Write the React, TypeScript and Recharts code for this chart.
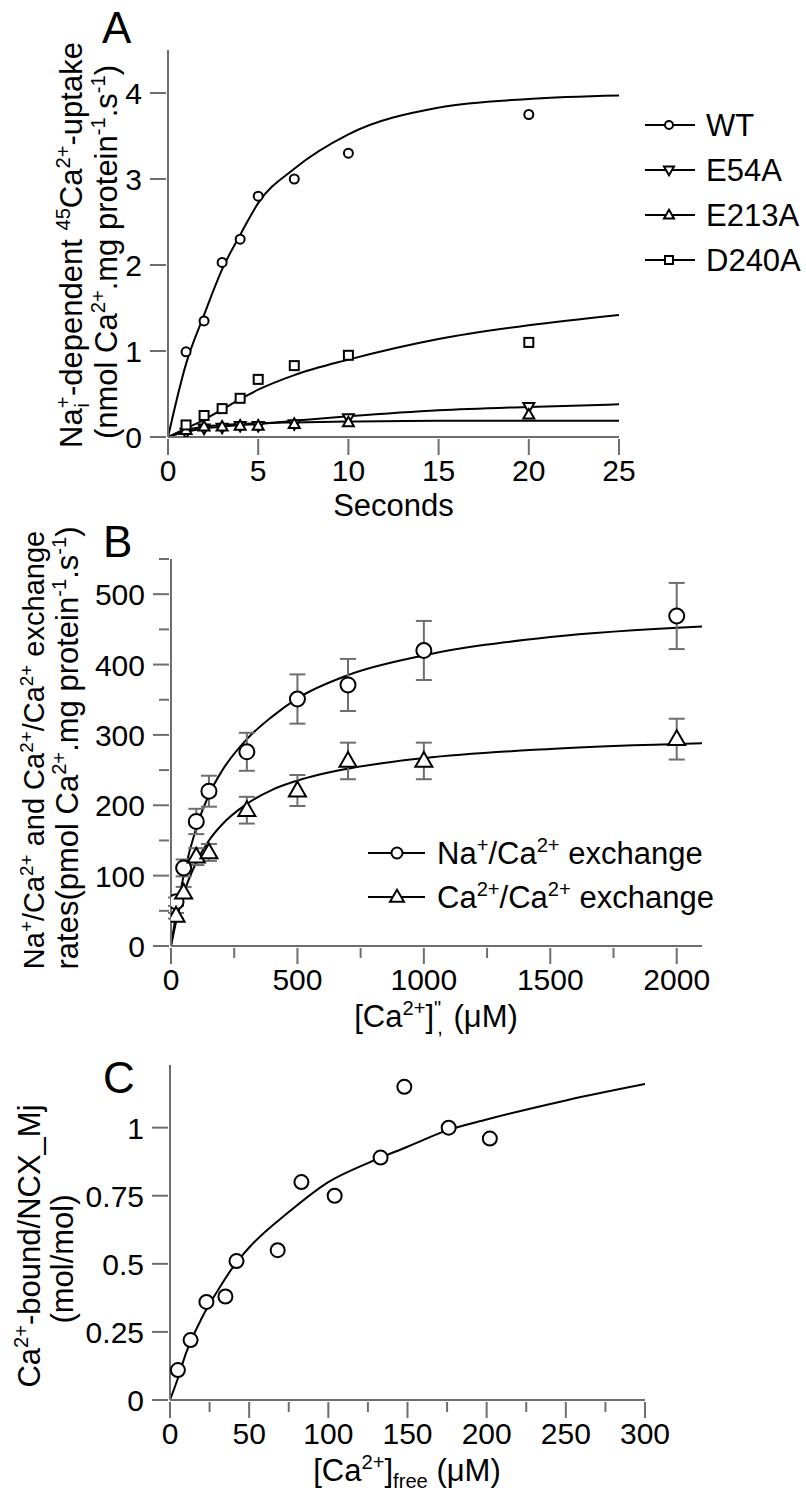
import React from 'react';
import { ComposedChart, Line, Scatter, XAxis, YAxis, ErrorBar, Legend } from 'recharts';

const FONT = 'Liberation Sans, Arial, Helvetica, sans-serif';
const AXIS = '#6e6e6e';
const TICK_FS = 30;
const TITLE_FS = 31;
const BLABEL_FS = 29;
const LETTER_FS = 44;

// ---------- Panel A ----------
const aTimes = [1, 2, 3, 4, 5, 7, 10, 20];
const aWT = [0.99, 1.35, 2.03, 2.3, 2.8, 3.0, 3.3, 3.75];
const aE54A = [0.05, 0.1, 0.11, 0.13, 0.13, 0.15, 0.22, 0.35];
const aE213A = [0.08, 0.12, 0.12, 0.13, 0.13, 0.15, 0.17, 0.26];
const aD240A = [0.14, 0.25, 0.33, 0.45, 0.67, 0.83, 0.95, 1.1];
const aFitT = [0, 1, 2, 3, 4, 5, 7, 10, 15, 20, 25];
const aFitWT = [0, 0.85, 1.42, 1.95, 2.35, 2.72, 3.12, 3.52, 3.83, 3.93, 3.97];
const aFitE54A = [0, 0.06, 0.1, 0.12, 0.14, 0.15, 0.19, 0.24, 0.31, 0.35, 0.38];
const aFitE213A = [0, 0.08, 0.12, 0.14, 0.15, 0.16, 0.17, 0.18, 0.19, 0.19, 0.19];
const aFitD240A = [0, 0.1, 0.2, 0.32, 0.44, 0.55, 0.72, 0.9, 1.14, 1.3, 1.42];
const aXTicks = [0, 5, 10, 15, 20, 25];
const aYTicks = [0, 1, 2, 3, 4];
const aLegendLabels = ['WT', 'E54A', 'E213A', 'D240A'];

// ---------- Panel B ----------
const bConc = [20, 50, 100, 150, 300, 500, 700, 1000, 2000];
const bNaCa = [63, 111, 177, 220, 276, 351, 371, 420, 469];
const bNaCaErr = [6, 12, 18, 22, 27, 35, 37, 42, 47];
const bCaCa = [43, 76, 127, 133, 193, 221, 263, 263, 294];
const bCaCaErr = [4, 8, 12, 12, 19, 22, 26, 26, 29];
const bFitX = [0, 20, 50, 100, 150, 200, 300, 400, 500, 700, 1000, 1500, 2100];
const bFitNaCa = [0, 45, 100, 168, 215, 248, 294, 326, 352, 385, 413, 439, 454];
const bFitCaCa = [0, 34, 74, 119, 150, 172, 202, 222, 235, 252, 267, 280, 288];
const bXTicks = [0, 250, 500, 750, 1000, 1250, 1500, 1750, 2000];
const bXMajor = [0, 500, 1000, 1500, 2000];
const bYTicks = [0, 50, 100, 150, 200, 250, 300, 350, 400, 450, 500, 550];
const bYMajor = [0, 100, 200, 300, 400, 500];

// ---------- Panel C ----------
const cConc = [5, 13, 23, 35, 42, 68, 83, 104, 133, 148, 176, 202];
const cBound = [0.11, 0.22, 0.36, 0.38, 0.51, 0.55, 0.8, 0.75, 0.89, 1.15, 1.0, 0.96];
const cFitX = [0, 5, 10, 20, 30, 40, 50, 75, 100, 125, 150, 175, 200, 250, 300];
const cFitY = [0, 0.08, 0.17, 0.3, 0.4, 0.49, 0.56, 0.69, 0.8, 0.87, 0.93, 0.99, 1.03, 1.1, 1.16];
const cXTicks = [0, 25, 50, 75, 100, 125, 150, 175, 200, 225, 250, 275, 300];
const cXMajor = [0, 50, 100, 150, 200, 250, 300];
const cYTicks = [0, 0.25, 0.5, 0.75, 1];

const zip = (xs: number[], ys: number[], es?: number[]) =>
  xs.map((x, i) => (es ? { x, y: ys[i], err: es[i] } : { x, y: ys[i] }));

// ---------- helpers ----------
type Seg = [string, 'n' | 'p' | 'b', number?];
function rich(segs: Seg[], size: number) {
  let cur = 0;
  return segs.map(([t, k, dx], i) => {
    const target = k === 'p' ? -size * 0.38 : k === 'b' ? size * 0.22 : 0;
    const dy = target - cur;
    cur = target;
    return (
      <tspan key={i} dy={dy} dx={dx || 0} fontSize={k === 'n' ? size : size * 0.65}>
        {t}
      </tspan>
    );
  });
}

const makeTick = (axis: 'x' | 'y', majors: number[] | null) => (props: any) => {
  const { x, y, payload } = props;
  const v = payload.value;
  const isMajor = majors ? majors.some((m) => Math.abs(m - v) < 1e-9) : true;
  const len = isMajor ? 16 : 10;
  if (axis === 'x') {
    return (
      <g>
        <line x1={x} y1={y} x2={x} y2={y + len} stroke={AXIS} strokeWidth={2} />
        {isMajor && (
          <text x={x} y={y + 42} textAnchor="middle" fontSize={TICK_FS} fontFamily={FONT} fill="#000">
            {String(v)}
          </text>
        )}
      </g>
    );
  }
  return (
    <g>
      <line x1={x} y1={y} x2={x - len} y2={y} stroke={AXIS} strokeWidth={2} />
      {isMajor && (
        <text x={x - 24} y={y + 11} textAnchor="end" fontSize={TICK_FS} fontFamily={FONT} fill="#000">
          {String(v)}
        </text>
      )}
    </g>
  );
};

const circle = (r: number) => (p: any) => (
  <circle cx={p.cx} cy={p.cy} r={r} fill="#fff" stroke="#000" strokeWidth={2} />
);
const square = (s: number) => (p: any) => (
  <rect x={p.cx - s / 2} y={p.cy - s / 2} width={s} height={s} fill="#fff" stroke="#000" strokeWidth={2} />
);
const triUp = (s: number) => (p: any) => {
  const h = s * 0.87;
  return (
    <polygon
      points={`${p.cx},${p.cy - h * 0.6} ${p.cx - s / 2},${p.cy + h * 0.4} ${p.cx + s / 2},${p.cy + h * 0.4}`}
      fill="#fff"
      stroke="#000"
      strokeWidth={2}
    />
  );
};
const triDown = (s: number) => (p: any) => {
  const h = s * 0.87;
  return (
    <polygon
      points={`${p.cx},${p.cy + h * 0.6} ${p.cx - s / 2},${p.cy - h * 0.4} ${p.cx + s / 2},${p.cy - h * 0.4}`}
      fill="#fff"
      stroke="#000"
      strokeWidth={2}
    />
  );
};

const axisLine = { stroke: AXIS, strokeWidth: 2 };

// ---------- Panel A ----------
const aShapes = [circle(4.5), triDown(11), triUp(11), square(9)];

function LegendA() {
  const rows = [25, 70, 115, 160];
  const legShapes = [circle(4), triDown(10), triUp(10), square(8)];
  return (
    <svg width={160} height={190} style={{ overflow: 'visible' }}>
      {aLegendLabels.map((lab, i) => (
        <g key={lab}>
          <line x1={5} y1={rows[i]} x2={55} y2={rows[i]} stroke="#000" strokeWidth={2} />
          {legShapes[i]({ cx: 29, cy: rows[i] })}
          <text x={66} y={rows[i] + 11} fontSize={TITLE_FS} fontFamily={FONT} fill="#000">
            {lab}
          </text>
        </g>
      ))}
    </svg>
  );
}

function ChartA() {
  const fits = [aFitWT, aFitE54A, aFitE213A, aFitD240A];
  const pts = [aWT, aE54A, aE213A, aD240A];
  return (
    <ComposedChart width={806} height={530} margin={{ top: 50, right: 187, bottom: 0, left: 0 }}>
      <XAxis
        type="number"
        dataKey="x"
        domain={[0, 25]}
        ticks={aXTicks}
        interval={0}
        allowDataOverflow
        height={93}
        tickSize={0}
        tickLine={false}
        axisLine={axisLine}
        tick={makeTick('x', null)}
        label={() => (
          <text x={393.5} y={516} textAnchor="middle" fontSize={TITLE_FS} fontFamily={FONT} fill="#000">
            Seconds
          </text>
        )}
      />
      <YAxis
        type="number"
        dataKey="y"
        domain={[0, 4.5]}
        ticks={aYTicks}
        interval={0}
        allowDataOverflow
        width={168}
        tickSize={0}
        tickLine={false}
        axisLine={axisLine}
        tick={makeTick('y', null)}
        label={() => (
          <g fontFamily={FONT} fill="#000">
            <text x={102} y={43} fontSize={LETTER_FS}>A</text>
            <text x={82} y={245} textAnchor="middle" fontSize={TITLE_FS} transform="rotate(-90 82 245)">
              {rich(
                [
                  ['Na', 'n'],
                  ['+', 'p'],
                  ['i', 'b', -11],
                  ['-dependent ', 'n', 7],
                  ['45', 'p'],
                  ['Ca', 'n'],
                  ['2+', 'p'],
                  ['-uptake', 'n'],
                ],
                TITLE_FS
              )}
            </text>
            <text x={117} y={252} textAnchor="middle" fontSize={TITLE_FS} transform="rotate(-90 117 252)">
              {rich(
                [
                  ['(nmol Ca', 'n'],
                  ['2+', 'p'],
                  ['.mg protein', 'n'],
                  ['-1', 'p'],
                  ['.s', 'n'],
                  ['-1', 'p'],
                  [')', 'n'],
                ],
                TITLE_FS
              )}
            </text>
          </g>
        )}
      />
      <Legend
        layout="vertical"
        align="center"
        verticalAlign="middle"
        wrapperStyle={{ left: 640, top: 100, width: 160, height: 190 }}
        content={() => <LegendA />}
      />
      {fits.map((f, i) => (
        <Line
          key={'fa' + i}
          data={zip(aFitT, f)}
          dataKey="y"
          type="monotone"
          stroke="#000"
          strokeWidth={2}
          dot={false}
          activeDot={false}
          isAnimationActive={false}
        />
      ))}
      {pts.map((p, i) => (
        <Scatter
          key={'pa' + i}
          name={aLegendLabels[i]}
          data={zip(aTimes, p)}
          dataKey="y"
          shape={aShapes[i]}
          isAnimationActive={false}
        />
      ))}
    </ComposedChart>
  );
}

// ---------- Panel B (svg top at page y=460) ----------
function LegendB() {
  const rows = [23, 67];
  const labels = [
    rich([['Na', 'n'], ['+', 'p'], ['/Ca', 'n'], ['2+', 'p'], [' exchange', 'n']], TITLE_FS),
    rich([['Ca', 'n'], ['2+', 'p'], ['/Ca', 'n'], ['2+', 'p'], [' exchange', 'n']], TITLE_FS),
  ];
  const shapes = [circle(5.5), triUp(14)];
  return (
    <svg width={360} height={100} style={{ overflow: 'visible' }}>
      {rows.map((ry, i) => (
        <g key={i}>
          <line x1={8} y1={ry} x2={65} y2={ry} stroke="#000" strokeWidth={2} />
          {shapes[i]({ cx: 37, cy: ry })}
          <text x={77} y={ry + 11} fontSize={TITLE_FS} fontFamily={FONT} fill="#000">
            {labels[i]}
          </text>
        </g>
      ))}
    </svg>
  );
}

function ChartB() {
  return (
    <ComposedChart width={806} height={590} margin={{ top: 99, right: 104, bottom: 0, left: 0 }}>
      <XAxis
        type="number"
        dataKey="x"
        domain={[0, 2100]}
        ticks={bXTicks}
        interval={0}
        allowDataOverflow
        height={104}
        tickSize={0}
        tickLine={false}
        axisLine={axisLine}
        tick={makeTick('x', bXMajor)}
        label={() => (
          <text x={436} y={567} textAnchor="middle" fontSize={TITLE_FS} fontFamily={FONT} fill="#000">
            {rich([['[Ca', 'n'], ['2+', 'p'], [']', 'n'], ['"', 'p'], [',', 'b', -4], [' (μM)', 'n', 2]], TITLE_FS)}
          </text>
        )}
      />
      <YAxis
        type="number"
        dataKey="y"
        domain={[0, 550]}
        ticks={bYTicks}
        interval={0}
        allowDataOverflow
        width={171}
        tickSize={0}
        tickLine={false}
        axisLine={axisLine}
        tick={makeTick('y', bYMajor)}
        label={() => (
          <g fontFamily={FONT} fill="#000">
            <text x={103} y={97} fontSize={LETTER_FS}>B</text>
            <text x={44} y={290} textAnchor="middle" fontSize={BLABEL_FS} transform="rotate(-90 44 290)">
              {rich(
                [
                  ['Na', 'n'],
                  ['+', 'p'],
                  ['/Ca', 'n'],
                  ['2+', 'p'],
                  [' and Ca', 'n'],
                  ['2+', 'p'],
                  ['/Ca', 'n'],
                  ['2+', 'p'],
                  [' exchange', 'n'],
                ],
                BLABEL_FS
              )}
            </text>
            <text x={78} y={288} textAnchor="middle" fontSize={TITLE_FS} transform="rotate(-90 78 288)">
              {rich(
                [
                  ['rates(pmol Ca', 'n'],
                  ['2+', 'p'],
                  ['.mg protein', 'n'],
                  ['-1', 'p'],
                  ['.s', 'n'],
                  ['-1', 'p'],
                  [')', 'n'],
                ],
                TITLE_FS
              )}
            </text>
          </g>
        )}
      />
      <Legend
        layout="vertical"
        align="center"
        verticalAlign="middle"
        wrapperStyle={{ left: 360, top: 370, width: 360, height: 100 }}
        content={() => <LegendB />}
      />
      <Line
        data={zip(bFitX, bFitNaCa)}
        dataKey="y"
        type="monotone"
        stroke="#000"
        strokeWidth={2}
        dot={false}
        activeDot={false}
        isAnimationActive={false}
      />
      <Line
        data={zip(bFitX, bFitCaCa)}
        dataKey="y"
        type="monotone"
        stroke="#000"
        strokeWidth={2}
        dot={false}
        activeDot={false}
        isAnimationActive={false}
      />
      <Scatter name="Na/Ca" data={zip(bConc, bNaCa, bNaCaErr)} dataKey="y" shape={circle(7.5)} isAnimationActive={false}>
        <ErrorBar dataKey="err" direction="y" width={8} stroke={AXIS} strokeWidth={2} isAnimationActive={false} />
      </Scatter>
      <Scatter name="Ca/Ca" data={zip(bConc, bCaCa, bCaCaErr)} dataKey="y" shape={triUp(17)} isAnimationActive={false}>
        <ErrorBar dataKey="err" direction="y" width={8} stroke={AXIS} strokeWidth={2} isAnimationActive={false} />
      </Scatter>
    </ComposedChart>
  );
}

// ---------- Panel C (svg top at page y=990) ----------
function ChartC() {
  return (
    <ComposedChart width={806} height={509} margin={{ top: 75, right: 161, bottom: 0, left: 0 }}>
      <XAxis
        type="number"
        dataKey="x"
        domain={[0, 300]}
        ticks={cXTicks}
        interval={0}
        allowDataOverflow
        height={99}
        tickSize={0}
        tickLine={false}
        axisLine={axisLine}
        tick={makeTick('x', cXMajor)}
        label={() => (
          <text x={407} y={491} textAnchor="middle" fontSize={TITLE_FS} fontFamily={FONT} fill="#000">
            {rich([['[Ca', 'n'], ['2+', 'p'], [']', 'n'], ['free', 'b'], [' (μM)', 'n']], TITLE_FS)}
          </text>
        )}
      />
      <YAxis
        type="number"
        dataKey="y"
        domain={[0, 1.23]}
        ticks={cYTicks}
        interval={0}
        allowDataOverflow
        width={170}
        tickSize={0}
        tickLine={false}
        axisLine={axisLine}
        tick={makeTick('y', null)}
        label={() => (
          <g fontFamily={FONT} fill="#000">
            <text x={103} y={103} fontSize={LETTER_FS}>C</text>
            <text x={40} y={256} textAnchor="middle" fontSize={TITLE_FS} transform="rotate(-90 40 256)">
              {rich([['Ca', 'n'], ['2+', 'p'], ['-bound/NCX_Mj', 'n']], TITLE_FS)}
            </text>
            <text x={73} y={269} textAnchor="middle" fontSize={TITLE_FS} transform="rotate(-90 73 269)">
              (mol/mol)
            </text>
          </g>
        )}
      />
      <Line
        data={zip(cFitX, cFitY)}
        dataKey="y"
        type="monotone"
        stroke="#000"
        strokeWidth={2}
        dot={false}
        activeDot={false}
        isAnimationActive={false}
      />
      <Scatter name="bound" data={zip(cConc, cBound)} dataKey="y" shape={circle(7)} isAnimationActive={false} />
    </ComposedChart>
  );
}

export default function App() {
  return (
    <div style={{ position: 'absolute', left: 0, top: 0, width: 806, height: 1499, background: '#fff' }}>
      <div style={{ position: 'absolute', left: 0, top: 0 }}>
        <ChartA />
      </div>
      <div style={{ position: 'absolute', left: 0, top: 460 }}>
        <ChartB />
      </div>
      <div style={{ position: 'absolute', left: 0, top: 990 }}>
        <ChartC />
      </div>
    </div>
  );
}
